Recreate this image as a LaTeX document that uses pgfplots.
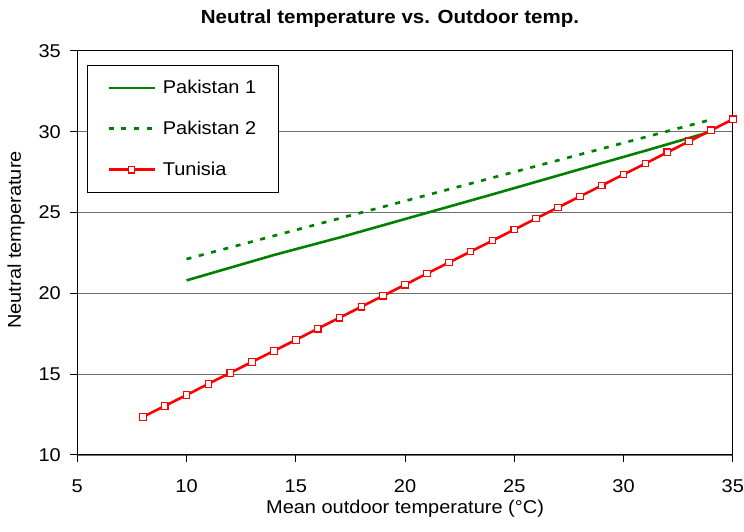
\documentclass[border=0pt]{standalone}
\usepackage{fontspec}
\setmainfont{Liberation Sans}[FakeStretch=1.08]
\usepackage{pgfplots}
\pgfplotsset{compat=1.18}
\definecolor{pkgreen}{RGB}{0,128,0}
\definecolor{tnred}{RGB}{255,0,0}
\definecolor{gridgray}{RGB}{110,110,110}
\newcommand{\fs}{\fontsize{18.5}{22}\selectfont}
\begin{document}
\begin{tikzpicture}
\begin{axis}[
  name=ax,
  scale only axis,
  width=655.5pt, height=404.2pt,
  xmin=5, xmax=35, ymin=10, ymax=35,
  xtick={5,10,...,35}, ytick={10,15,...,35},
  axis line style={black, line width=1pt},
  tick style={black, line width=1pt},
  tick align=outside,
  major tick length=7pt,
  xtick pos=bottom, ytick pos=left,
  ymajorgrids,
  grid style={gridgray, line width=1.2pt},
  /pgf/number format/assume math mode=true,
  xticklabel style={font=\fs, anchor=base, inner sep=0pt},
  yticklabel style={font=\fs, anchor=east, inner sep=0pt},
  xticklabel shift=0pt, yticklabel shift=0pt,
  every x tick label/.append style={yshift=-30.7pt},
  every y tick label/.append style={xshift=-9.3pt},
  every axis x label/.style={at={(axis description cs:0.5,-0.1442)}, anchor=base, font=\fs},
  every axis y label/.style={at={(axis description cs:-0.0860,0.532)}, rotate=90, anchor=base, font=\fs},
  every axis title/.style={at={(axis description cs:0.477,1.068)}, anchor=base, font=\fontsize{19}{22}\selectfont\bfseries},
  title={Neutral temperature vs. Outdoor temp.},
  xlabel={Mean outdoor temperature (°C)},
  ylabel={Neutral temperature},
  legend image code/.code={\draw[mark repeat=2,mark phase=2,#1] plot coordinates {(0pt,0pt) (23pt,0pt) (46pt,0pt)};},
  legend style={at={(axis description cs:0.0143,0.965)}, anchor=north west,
    draw=black, line width=1pt, fill=white, font=\fs,
    inner xsep=20pt, inner ysep=13pt, row sep=22pt, column sep=5pt,
    cells={anchor=west}},
]
\addplot[pkgreen, line width=2.6pt] coordinates {
(10,20.80) (14,22.37) (17,23.45) (24,26.12) (28,27.67) (31,28.82) (34,30.00)
};
\addlegendentry{Pakistan 1}
\addplot[pkgreen, line width=2.7pt, dash pattern=on 5pt off 7.7pt] coordinates {
(10,22.12) (22,26.43) (34,30.74)
};
\addlegendentry{Pakistan 2}
\addplot[tnred, line width=2.6pt, mark=square*, mark size=3.3pt,
  mark options={fill=white, draw=tnred, line width=1.1pt, solid}] coordinates {
(8,12.35) (9,13.03) (10,13.71) (11,14.40) (12,15.08) (13,15.76) (14,16.44)
(15,17.12) (16,17.81) (17,18.49) (18,19.17) (19,19.85) (20,20.53) (21,21.22)
(22,21.90) (23,22.58) (24,23.26) (25,23.94) (26,24.63) (27,25.31) (28,25.99)
(29,26.67) (30,27.35) (31,28.03) (32,28.72) (33,29.40) (34,30.08) (35,30.76)
};
\addlegendentry{Tunisia}
\coordinate (sw) at (rel axis cs:0,0);
\coordinate (ne) at (rel axis cs:1,1);
\end{axis}
\pgfresetboundingbox
\path ([shift={(-77.3pt,-77pt)}]sw) rectangle ([shift={(11.2pt,50.8pt)}]ne);
\end{tikzpicture}
\end{document}
